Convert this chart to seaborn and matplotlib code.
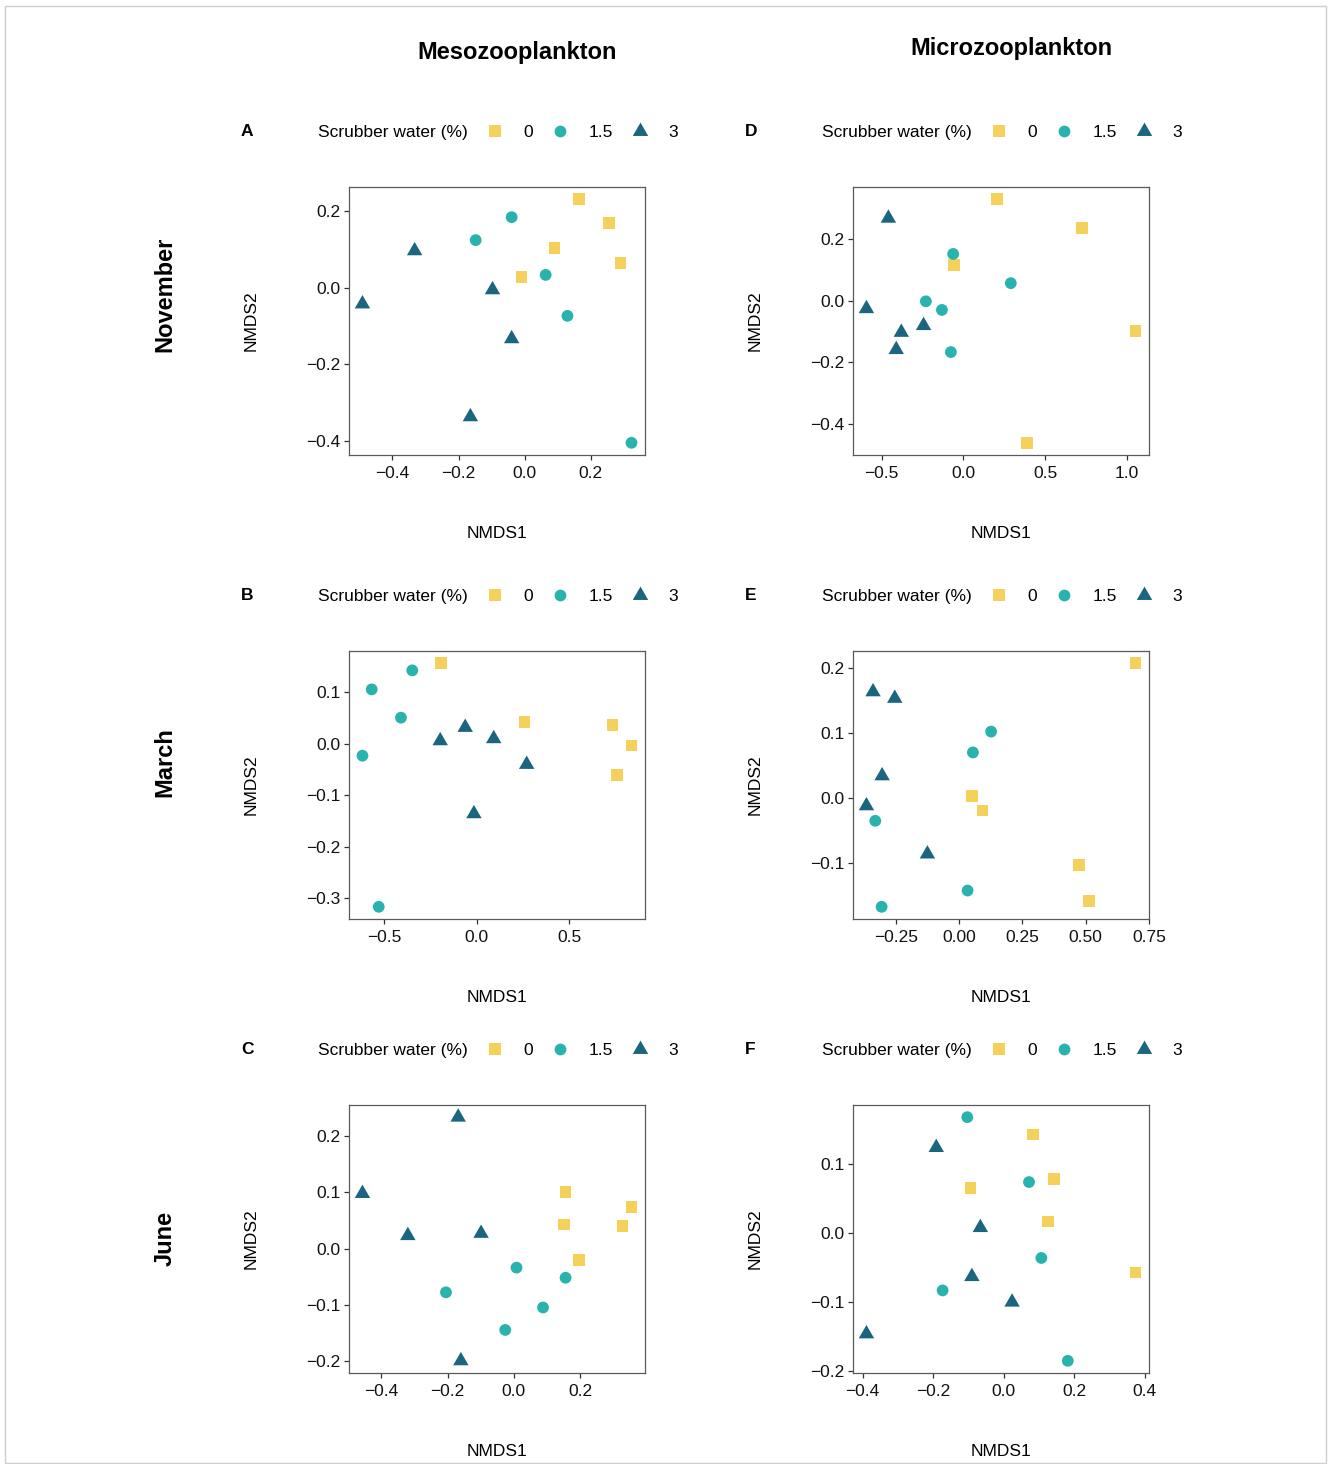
import numpy as np
import pandas as pd
import matplotlib
matplotlib.use("Agg")
import matplotlib.pyplot as plt
from matplotlib.lines import Line2D
from matplotlib.path import Path
from matplotlib.patches import Rectangle
from matplotlib.ticker import MultipleLocator
import seaborn as sns

# treatment of each site score: 5 x 0 %, 5 x 1.5 %, 5 x 3 %
GROUPS = ["0", "1.5", "3"]
treat = ["0"] * 5 + ["1.5"] * 5 + ["3"] * 5

# A  Mesozooplankton, November
meso_nov_x = [0.164, 0.255, 0.091, 0.291, -0.009, -0.039, -0.148, 0.064, 0.130, 0.324,
              -0.333, -0.491, -0.097, -0.039, -0.164]
meso_nov_y = [0.232, 0.170, 0.104, 0.065, 0.029, 0.185, 0.125, 0.034, -0.073, -0.405,
              0.097, -0.042, -0.005, -0.133, -0.337]
# B  Mesozooplankton, March
meso_mar_x = [-0.192, 0.259, 0.734, 0.837, 0.759, -0.347, -0.566, -0.408, -0.616, -0.528,
              -0.196, -0.061, 0.093, 0.271, -0.014]
meso_mar_y = [0.157, 0.043, 0.037, -0.003, -0.060, 0.143, 0.106, 0.051, -0.023, -0.317,
              0.006, 0.032, 0.010, -0.040, -0.136]
# C  Mesozooplankton, June
meso_jun_x = [0.156, 0.355, 0.151, 0.328, 0.197, 0.008, 0.156, -0.205, 0.088, -0.026,
              -0.168, -0.457, -0.320, -0.099, -0.160]
meso_jun_y = [0.101, 0.074, 0.043, 0.040, -0.020, -0.034, -0.052, -0.078, -0.105, -0.145,
              0.234, 0.098, 0.023, 0.027, -0.200]
# D  Microzooplankton, November
micro_nov_x = [0.205, 0.726, -0.059, 1.051, 0.386, -0.063, 0.289, -0.230, -0.132, -0.077,
               -0.459, -0.593, -0.380, -0.244, -0.411]
micro_nov_y = [0.330, 0.236, 0.115, -0.098, -0.462, 0.152, 0.057, -0.002, -0.030, -0.167,
               0.268, -0.026, -0.103, -0.081, -0.159]
# E  Microzooplankton, March
micro_mar_x = [0.697, 0.050, 0.092, 0.475, 0.513, 0.126, 0.054, -0.332, 0.033, -0.307,
               -0.341, -0.255, -0.305, -0.367, -0.126]
micro_mar_y = [0.207, 0.003, -0.019, -0.103, -0.158, 0.102, 0.070, -0.035, -0.142, -0.167,
               0.163, 0.153, 0.034, -0.012, -0.086]
# F  Microzooplankton, June
micro_jun_x = [0.083, 0.142, -0.094, 0.125, 0.374, -0.103, 0.072, 0.107, -0.173, 0.182,
               -0.191, -0.066, -0.090, 0.024, -0.389]
micro_jun_y = [0.143, 0.079, 0.065, 0.017, -0.057, 0.168, 0.074, -0.036, -0.083, -0.185,
               0.124, 0.008, -0.063, -0.100, -0.146]

COLUMNS = ["Mesozooplankton", "Microzooplankton"]
ROWS = ["November", "March", "June"]

COLORS = {"0": "#F5D15C", "1.5": "#2AB3AE", "3": "#1B6580"}
TRIANGLE = Path([(0, 1), (-0.866, -0.5), (0.866, -0.5), (0, 1)], closed=True)
MARKERS = {"0": "s", "1.5": "o", "3": TRIANGLE}
SIZES = {"0": 72, "1.5": 72, "3": 165}

W, H = 1328, 1464
col_left = [349, 853]
row_top = [187, 651, 1105]
ax_w, ax_h = 296, 268

sns.set_style("ticks")
plt.rcParams["font.family"] = ["Liberation Sans", "DejaVu Sans"]
plt.rcParams["axes.unicode_minus"] = True
plt.rcParams["text.color"] = "black"
plt.rcParams["axes.labelcolor"] = "black"

fig = plt.figure(figsize=(W / 100, H / 100), dpi=100)


def fx(px):
    return px / W


def fy(py):
    return 1 - py / H


panels = [
    ("A", meso_nov_x, meso_nov_y, 0, 0, 0.2, 0.2),
    ("B", meso_mar_x, meso_mar_y, 0, 1, 0.5, 0.1),
    ("C", meso_jun_x, meso_jun_y, 0, 2, 0.2, 0.1),
    ("D", micro_nov_x, micro_nov_y, 1, 0, 0.5, 0.2),
    ("E", micro_mar_x, micro_mar_y, 1, 1, 0.25, 0.1),
    ("F", micro_jun_x, micro_jun_y, 1, 2, 0.2, 0.1),
]

handles = [Line2D([], [], linestyle="", marker=MARKERS[g], markerfacecolor=COLORS[g],
                  markeredgewidth=0, markersize=np.sqrt(SIZES[g]))
           for g in GROUPS]

for letter, xs, ys, col, row, xstep, ystep in panels:
    left, top = col_left[col], row_top[row]
    ax = fig.add_axes([fx(left), fy(top + ax_h), ax_w / W, ax_h / H])
    df = pd.DataFrame({"NMDS1": xs, "NMDS2": ys, "treat": treat})
    sns.scatterplot(data=df, x="NMDS1", y="NMDS2", hue="treat", style="treat", size="treat",
                    hue_order=GROUPS, style_order=GROUPS, size_order=GROUPS,
                    palette=COLORS, markers=MARKERS, sizes=SIZES,
                    linewidth=0, legend=False, ax=ax, zorder=3)

    # ggplot-like 5 % expansion
    xr = max(xs) - min(xs)
    yr = max(ys) - min(ys)
    ax.set_xlim(min(xs) - 0.05 * xr, max(xs) + 0.0502 * xr)
    ax.set_ylim(min(ys) - 0.05 * yr, max(ys) + 0.05 * yr)
    ax.xaxis.set_major_locator(MultipleLocator(xstep))
    ax.yaxis.set_major_locator(MultipleLocator(ystep))

    for sp in ax.spines.values():
        sp.set_visible(True)
        sp.set_color("#5a5a5a")
        sp.set_linewidth(0.9)
    ax.tick_params(axis="both", length=3.8, width=0.9, color="#333333",
                   labelsize=12.5, labelcolor="#111111")
    ax.tick_params(axis="x", pad=4)
    ax.tick_params(axis="y", pad=2.5)

    ax.set_xlabel("NMDS1", fontsize=12.5, va="center")
    ax.set_ylabel("NMDS2", fontsize=12.5, va="center")
    ax.xaxis.set_label_coords(0.5, -78 / ax_h)
    ax.yaxis.set_label_coords(-98 / ax_w, 0.5)

    # panel letter and legend row above the panel
    ly = top - 55
    fig.text(fx(left - 108), fy(ly), letter, ha="left", va="center",
             fontsize=12.5, fontweight="bold")
    fig.text(fx(left - 31), fy(ly), "Scrubber water (%)", ha="left", va="center",
             fontsize=12.5)
    ax.legend(handles, GROUPS, loc="center left",
              bbox_to_anchor=(fx(left + 137.5), fy(ly)), bbox_transform=fig.transFigure,
              ncol=3, frameon=False, fontsize=12.5, handlelength=1.0,
              handletextpad=1.1, columnspacing=1.1, borderpad=0, borderaxespad=0)

# column headings
heading_pos = [(517, 52), (1011, 49)]
for (hx, hy), name in zip(heading_pos, COLUMNS):
    fig.text(fx(hx), fy(hy), name, ha="center", va="center",
             fontsize=17, fontweight="bold")

# row headings
row_centers = [294, 762, 1238]
for row, name in enumerate(ROWS):
    fig.text(fx(165), fy(row_centers[row]), name, rotation=90, ha="center", va="center",
             fontsize=17, fontweight="bold")

# thin frame around the figure
fig.patches.append(Rectangle((fx(5), fy(1463)), (1326 - 5) / W, (1463 - 6) / H,
                             transform=fig.transFigure, fill=False,
                             edgecolor="#cfcfcf", linewidth=1))

fig.savefig("out.png", dpi=100, facecolor="white")
